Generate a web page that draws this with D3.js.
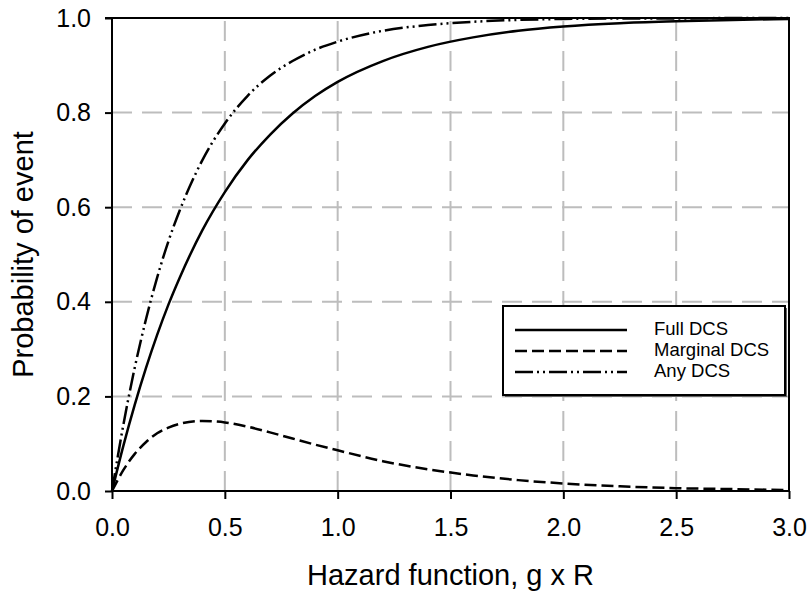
<!DOCTYPE html>
<html><head><meta charset="utf-8">
<script src="https://cdn.jsdelivr.net/npm/d3@7"></script>
<style>body{margin:0;background:#fff}svg{display:block}text{font-family:"Liberation Sans",Arial,sans-serif;fill:#000}</style>
</head><body><svg id="c" width="810" height="594"></svg>
<script>
const hazard   = [0,0.05,0.1,0.15,0.2,0.25,0.3,0.4,0.5,0.6,0.7,0.8,0.9,1.0,1.2,1.4,1.6,1.8,2.0,2.25,2.5,2.75,3.0];
const fullDCS  = [0,0.095,0.181,0.259,0.330,0.394,0.451,0.551,0.632,0.699,0.753,0.798,0.835,0.865,0.909,0.939,0.959,0.973,0.982,0.989,0.993,0.996,0.998];
const margDCS  = [0,0.044,0.078,0.103,0.122,0.134,0.142,0.148,0.145,0.136,0.124,0.111,0.098,0.086,0.063,0.046,0.033,0.023,0.016,0.010,0.006,0.004,0.002];
const anyDCS   = [0,0.139,0.259,0.362,0.451,0.528,0.593,0.699,0.777,0.835,0.878,0.909,0.933,0.950,0.973,0.985,0.992,0.996,0.998,0.999,0.999,1.0,1.0];
const xTicks = [0,0.5,1.0,1.5,2.0,2.5,3.0];
const yTicks = [0,0.2,0.4,0.6,0.8,1.0];
const seriesNames = ["Full DCS","Marginal DCS","Any DCS"];
const seriesDash = [null,"12,5","18,4,2,4,2,4"];

const svg = d3.select("#c");
const L=112,R=789,T=18,B=491;
const x = d3.scaleLinear().domain([0,3]).range([L,R]);
const y = d3.scaleLinear().domain([0,1]).range([B,T]);

// grid
const g = svg.append("g");
g.selectAll(".vg").data(xTicks.filter(d=>d>0&&d<3)).join("line")
 .attr("x1",d=>x(d)).attr("x2",d=>x(d)).attr("y1",B).attr("y2",T)
 .attr("stroke","#bdbdbd").attr("stroke-width",2).attr("stroke-dasharray","20,10");
g.selectAll(".hg").data(yTicks.filter(d=>d>0&&d<1)).join("line")
 .attr("y1",d=>y(d)).attr("y2",d=>y(d)).attr("x1",L).attr("x2",R)
 .attr("stroke","#bdbdbd").attr("stroke-width",2).attr("stroke-dasharray","20,10");

// curves
const series=[fullDCS,margDCS,anyDCS];
const line = d3.line().x((d,i)=>x(hazard[i])).y(d=>y(d)).curve(d3.curveMonotoneX);
series.forEach((s,k)=>{
  svg.append("path").attr("d",line(s)).attr("fill","none").attr("stroke","#000")
   .attr("stroke-width",2.5).attr("stroke-dasharray",seriesDash[k]);
});

// axes
const xa = svg.append("g").attr("transform",`translate(0,${B})`)
 .call(d3.axisBottom(x).tickValues(xTicks).tickFormat(d3.format(".1f")).tickSize(8).tickPadding(19));
const ya = svg.append("g").attr("transform",`translate(${L},0)`)
 .call(d3.axisLeft(y).tickValues(yTicks).tickFormat(d3.format(".1f")).tickSize(7).tickPadding(14));
[xa,ya].forEach(a=>{
  a.select(".domain").remove();
  a.selectAll("line").attr("stroke","#000").attr("stroke-width",2);
  a.selectAll("text").attr("font-size",25).attr("font-family","Liberation Sans, Arial, sans-serif").attr("fill","#000");
});
// frame
svg.append("rect").attr("x",L).attr("y",T).attr("width",R-L).attr("height",B-T)
 .attr("fill","none").attr("stroke","#000").attr("stroke-width",2);
svg.append("line").attr("x1",L-7).attr("x2",L).attr("y1",T).attr("y2",T).attr("stroke","#000").attr("stroke-width",2);

// titles
svg.append("text").attr("x",(L+R)/2).attr("y",585).attr("text-anchor","middle")
 .attr("font-size",29).text("Hazard function, g x R");
svg.append("text").attr("transform",`translate(33,${(T+B)/2}) rotate(-90)`).attr("text-anchor","middle")
 .attr("font-size",29).text("Probability of event");

// legend
const lg = svg.append("g");
lg.append("rect").attr("x",505).attr("y",308).attr("width",282).attr("height",89).attr("fill","#666");
lg.append("rect").attr("x",503).attr("y",306).attr("width",282).attr("height",89)
 .attr("fill","#fff").attr("stroke","#000").attr("stroke-width",2);
seriesNames.forEach((n,i)=>{
  const yy = 330 + i*21;
  lg.append("line").attr("x1",515).attr("x2",627).attr("y1",yy).attr("y2",yy)
   .attr("stroke","#000").attr("stroke-width",2.5).attr("stroke-dasharray",seriesDash[i]);
  lg.append("text").attr("x",654).attr("y",yy+5).attr("font-size",18.5).text(n);
});
</script></body></html>
